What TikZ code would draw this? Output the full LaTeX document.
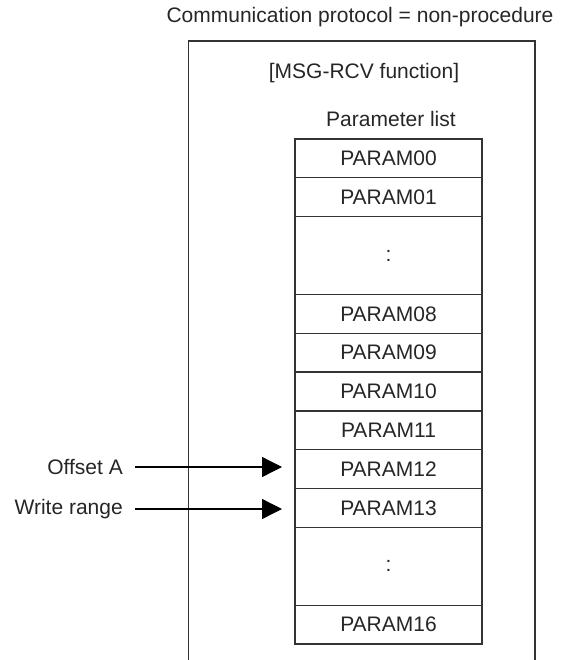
\documentclass[tikz,border=0pt]{standalone}
\usepackage{fontspec}
\setmainfont{Liberation Sans}
\usetikzlibrary{arrows.meta}
\begin{document}
\begin{tikzpicture}[x=1pt,y=-1pt,
  lbl/.style={font=\fontsize{21}{25}\selectfont, text=black!85, inner sep=0pt},
  cell/.style={draw=black!80, line width=1.3pt, minimum width=187pt, minimum height=38.85pt, inner sep=0pt, outer sep=0pt, anchor=north, font=\fontsize{21}{25}\selectfont, text=black!85},
  dcell/.style={cell, minimum height=77.7pt},
  arr/.style={draw=black, line width=1.3pt, -{Triangle[length=20pt,width=20pt]}}]
\useasboundingbox (0,0) rectangle (563,660);
\node[lbl] (title) at (360,17) {Communication protocol = non-procedure};
\draw[draw=black!80, line width=1.3pt] (188.5,660) -- (188.5,41) -- (535,41) -- (535,660);
\node[lbl] (fn) at (364,73) {[MSG-RCV function]};
\node[lbl] (pl) at (391,119) {Parameter list};
\def\cx{388.5}
\node[cell] (p00) at (\cx,139) {PARAM00};
\node[cell] (p01) at (p00.south) {PARAM01};
\node[dcell] (d1) at (p01.south) {:};
\node[cell] (p08) at (d1.south) {PARAM08};
\node[cell] (p09) at (p08.south) {PARAM09};
\node[cell] (p10) at (p09.south) {PARAM10};
\node[cell] (p11) at (p10.south) {PARAM11};
\node[cell] (p12) at (p11.south) {PARAM12};
\node[cell] (p13) at (p12.south) {PARAM13};
\node[dcell] (d2) at (p13.south) {:};
\node[cell] (p16) at (d2.south) {PARAM16};
\node[lbl, anchor=east] (off) at (123,467) {Offset A};
\node[lbl, anchor=east] (wr) at (123,509) {Write range};
\coordinate (offe) at (282,467);
\coordinate (wre) at (282,509);
\draw[arr] ([xshift=12pt]off.east) -- (offe);
\draw[arr] ([xshift=12pt]wr.east) -- (wre);
\end{tikzpicture}
\end{document}
